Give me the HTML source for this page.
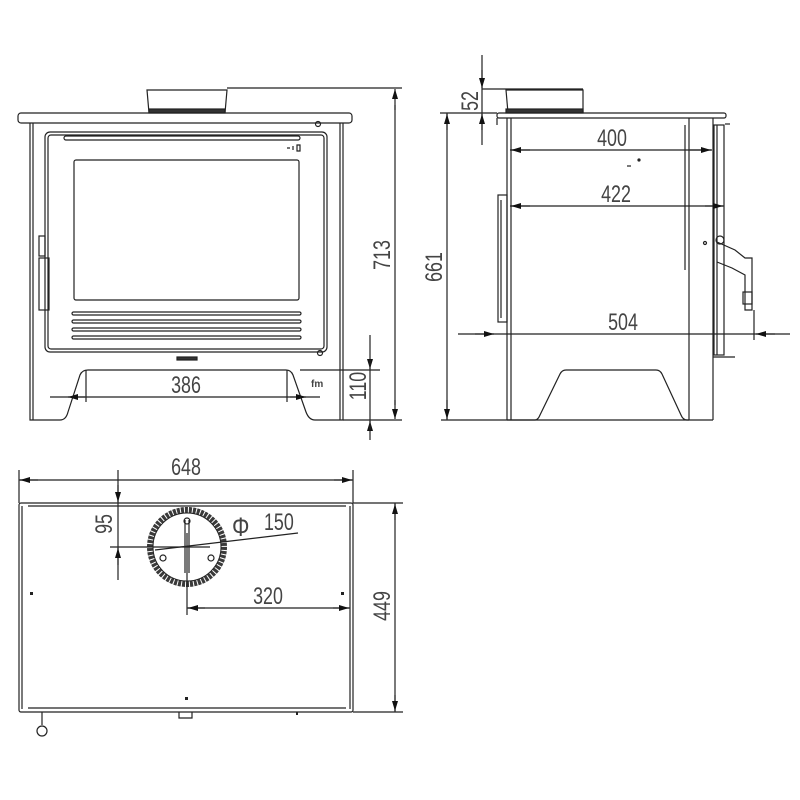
<!DOCTYPE html>
<html><head><style>html,body{margin:0;padding:0;background:#fff}svg{display:block}
text{font-family:"Liberation Sans",sans-serif;font-size:21px;fill:#444;}</style></head><body>
<svg width="800" height="800" viewBox="0 0 800 800" xmlns="http://www.w3.org/2000/svg">
<defs>
<marker id="a" markerWidth="10" markerHeight="6" refX="10" refY="3" orient="auto" markerUnits="userSpaceOnUse"><path d="M0,0L10,3L0,6z" fill="#111"/></marker>
</defs>
<g fill="none" stroke="#222" stroke-width="1.2">
<!-- FRONT VIEW -->
<path d="M149,113 L147,90 L227,90 L225,113"/><rect x="149" y="109" width="76" height="4" fill="#333"/>
<rect x="18" y="113" width="334" height="10" rx="3"/>
<path d="M30,123 L30,420 L60,420 Q66,420 68,412 L80,375 Q82,370 88,370 L286,370 Q291,370 293,375 L306,412 Q309,420 315,420 L343,420 L343,123"/>
<path d="M33,123 L33,420 M340,123 L340,420"/>
<rect x="45" y="132" width="282" height="220" rx="5"/>
<rect x="48" y="135" width="276" height="214" rx="3"/>
<rect x="64" y="136" width="236" height="4" rx="2"/>
<rect x="74" y="160" width="225" height="140" rx="2"/>
<rect x="72" y="312" width="229" height="3" rx="1.5"/>
<rect x="72" y="320" width="229" height="3" rx="1.5"/>
<rect x="72" y="328" width="229" height="3" rx="1.5"/>
<rect x="72" y="336" width="229" height="3" rx="1.5"/>
<rect x="39" y="236" width="6" height="20"/><rect x="39" y="258" width="10" height="52"/>
<rect x="177" y="357" width="20" height="3" fill="#333"/>
<circle cx="318" cy="124" r="2.5"/><circle cx="320" cy="353" r="2.5"/>
<path d="M287,148 L290,148 M293,146 L293,150 M297,145 L300,145 L300,151 L297,151Z"/>
<!-- dims front -->
<path d="M227,88 L402,88 M343,420 L402,420 M300,370 L380,370"/>
<line x1="395" y1="110" x2="395" y2="89" marker-end="url(#a)"/><line x1="395" y1="400" x2="395" y2="419" marker-end="url(#a)"/><line x1="395" y1="105" x2="395" y2="405"/>
<line x1="370" y1="335" x2="370" y2="369" marker-end="url(#a)"/><line x1="370" y1="440" x2="370" y2="421" marker-end="url(#a)"/><line x1="370" y1="360" x2="370" y2="430"/>
<line x1="50" y1="397" x2="320" y2="397"/><line x1="85" y1="397" x2="68" y2="397" marker-end="url(#a)"/><line x1="290" y1="397" x2="306" y2="397" marker-end="url(#a)"/>
<line x1="86" y1="370" x2="86" y2="402"/><line x1="287" y1="370" x2="287" y2="402"/>
<!-- SIDE VIEW -->
<path d="M508,113 L506,90 L583,90 L583,113"/><rect x="506" y="109" width="77" height="4" fill="#333"/>
<rect x="497" y="113" width="229" height="5" rx="2"/>
<path d="M497,118 L497,125 M507,118 L507,420 M511,118 L511,420 M685,125 L685,270 M689,118 L689,420 M713,118 L713,420"/>
<path d="M507,420 L535,420 Q538,420 540,415 L560,374 Q562,370 566,370 L656,370 Q660,370 662,374 L681,415 Q683,420 687,420 L689,420"/>
<path d="M441,420 L713,420"/>
<rect x="498" y="195" width="9" height="127"/><path d="M501,200 L501,318"/>
<rect x="714" y="125" width="10" height="230"/><path d="M717,125 L717,355"/>
<path d="M717,242 L735,250 L745,258 L752,258 L752,310 L745,310 L745,275 L732,268 L717,262"/>
<circle cx="720" cy="240" r="4"/><rect x="743" y="292" width="9" height="12"/>
<path d="M713,357 L735,357"/><circle cx="705" cy="243" r="1.5"/><path d="M725,124 L730,124"/>
<path d="M627,166 L631,166"/><circle cx="639" cy="160" r="1" fill="#333"/>
<!-- dims side -->
<path d="M440,113 L497,113 M482,89 L583,89 M482,55 L482,145"/>
<line x1="482" y1="70" x2="482" y2="88" marker-end="url(#a)"/><line x1="482" y1="130" x2="482" y2="114" marker-end="url(#a)"/>
<line x1="447" y1="113" x2="447" y2="420"/><line x1="447" y1="130" x2="447" y2="114" marker-end="url(#a)"/><line x1="447" y1="400" x2="447" y2="419" marker-end="url(#a)"/>
<line x1="510" y1="150" x2="712" y2="150"/><line x1="530" y1="150" x2="511" y2="150" marker-end="url(#a)"/><line x1="690" y1="150" x2="711" y2="150" marker-end="url(#a)"/>
<line x1="510" y1="206" x2="724" y2="206"/><line x1="530" y1="206" x2="511" y2="206" marker-end="url(#a)"/><line x1="705" y1="206" x2="723" y2="206" marker-end="url(#a)"/>
<line x1="458" y1="334" x2="790" y2="334"/><line x1="475" y1="334" x2="494" y2="334" marker-end="url(#a)"/><line x1="775" y1="334" x2="756" y2="334" marker-end="url(#a)"/>
<line x1="754" y1="310" x2="754" y2="340"/>
<!-- TOP VIEW -->
<rect x="19" y="503" width="334" height="209" rx="2"/>
<path d="M22,506 L22,709 M350,506 L350,709 M28,506 L346,506 M28,708 L346,708"/>
<circle cx="187" cy="547" r="37" stroke-width="6" stroke="#3a3a3a" stroke-dasharray="3 1"/>
<circle cx="187" cy="547" r="34" stroke-width="1"/>
<path d="M185,520 L185,573 M189,520 L189,573"/>
<circle cx="187" cy="521" r="3"/><circle cx="163" cy="558" r="3"/><circle cx="211" cy="558" r="3"/>
<line x1="155" y1="550" x2="298" y2="533"/>
<line x1="187" y1="533" x2="187" y2="615"/>
<line x1="110" y1="547" x2="210" y2="547"/>
<line x1="118" y1="470" x2="118" y2="580"/><line x1="118" y1="485" x2="118" y2="502" marker-end="url(#a)"/><line x1="118" y1="565" x2="118" y2="548" marker-end="url(#a)"/>
<line x1="19" y1="480" x2="353" y2="480"/><line x1="19" y1="470" x2="19" y2="503"/><line x1="353" y1="470" x2="353" y2="503"/>
<line x1="38" y1="480" x2="20" y2="480" marker-end="url(#a)"/><line x1="334" y1="480" x2="352" y2="480" marker-end="url(#a)"/>
<line x1="187" y1="608" x2="350" y2="608"/><line x1="205" y1="608" x2="188" y2="608" marker-end="url(#a)"/><line x1="333" y1="608" x2="349" y2="608" marker-end="url(#a)"/>
<path d="M353,503 L403,503 M353,712 L403,712"/>
<line x1="395" y1="503" x2="395" y2="712"/><line x1="395" y1="520" x2="395" y2="504" marker-end="url(#a)"/><line x1="395" y1="695" x2="395" y2="711" marker-end="url(#a)"/>
<path d="M42,712 L42,725"/><circle cx="42" cy="731" r="5"/>
<path d="M179,712 L179,718 L192,718 L192,712"/>
</g>
<g fill="#222"><rect x="30" y="592" width="3" height="3"/><rect x="341" y="592" width="3" height="3"/><rect x="185" y="697" width="3" height="3"/><rect x="296" y="712" width="2" height="3"/></g>
<text transform="translate(186,393) scale(0.85,1.15)" text-anchor="middle">386</text>
<text transform="translate(390,255) rotate(-90) scale(0.85,1.15)" text-anchor="middle">713</text>
<text transform="translate(366,386) rotate(-90) scale(0.85,1.15)" text-anchor="middle">110</text>
<text x="311" y="387" style="font-size:10px;font-weight:bold">fm</text>
<text transform="translate(612,146) scale(0.85,1.15)" text-anchor="middle">400</text>
<text transform="translate(616,202) scale(0.85,1.15)" text-anchor="middle">422</text>
<text transform="translate(623,330) scale(0.85,1.15)" text-anchor="middle">504</text>
<text transform="translate(442,267) rotate(-90) scale(0.85,1.15)" text-anchor="middle">661</text>
<text transform="translate(478,101) rotate(-90) scale(0.85,1.15)" text-anchor="middle">52</text>
<text transform="translate(186,475) scale(0.85,1.15)" text-anchor="middle">648</text>
<text transform="translate(112,524) rotate(-90) scale(0.85,1.15)" text-anchor="middle">95</text>
<text transform="translate(232,536) scale(0.95,1.15)" style="font-size:23px">Φ</text>
<text transform="translate(264,530) scale(0.85,1.15)">150</text>
<text transform="translate(268,604) scale(0.85,1.15)" text-anchor="middle">320</text>
<text transform="translate(390,606) rotate(-90) scale(0.85,1.15)" text-anchor="middle">449</text>
</svg>
</body></html>
